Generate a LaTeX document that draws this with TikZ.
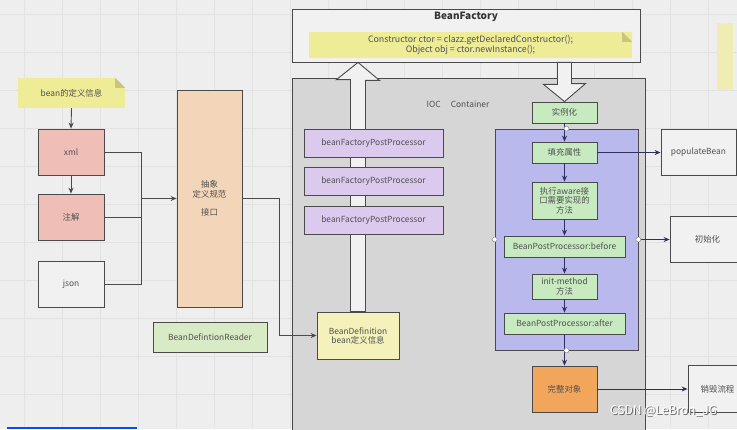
\documentclass[tikz,border=0pt]{standalone}
\usepackage{fontspec}
\setmainfont{Noto Sans CJK SC}
\usetikzlibrary{arrows.meta,calc}
\definecolor{bgc}{HTML}{EEEEEE}
\definecolor{gridc}{HTML}{E2E2E2}
\definecolor{notec}{HTML}{EFEC97}
\definecolor{foldc}{HTML}{C9C67C}
\definecolor{pinkc}{HTML}{EFBFB7}
\definecolor{peachc}{HTML}{F3D6B9}
\definecolor{greenc}{HTML}{D9EAC6}
\definecolor{procc}{HTML}{C7EAC1}
\definecolor{purplec}{HTML}{DCCAEE}
\definecolor{bdc}{HTML}{F5F1BA}
\definecolor{iocc}{HTML}{D6D6D6}
\definecolor{bluec}{HTML}{B9B9EE}
\definecolor{orangec}{HTML}{F2A65C}
\definecolor{whitec}{HTML}{F1F1F1}
\definecolor{linec}{HTML}{4A4A4A}
\definecolor{navyc}{HTML}{2E2E62}
\definecolor{textc}{HTML}{505050}
\newcommand{\fsz}{\fontsize{8.4}{10}\selectfont}
\begin{document}
\begin{tikzpicture}[x=1pt,y=-1pt,
  box/.style={draw=linec, line width=0.8pt, inner sep=1pt, align=center, font=\fsz, text=textc},
  notebox/.style={fill=notec, inner sep=1pt, align=center, font=\fsz, text=textc},
  conn/.style={draw=linec, line width=0.9pt, -{Stealth[length=6pt,width=5pt]}},
  plain/.style={draw=linec, line width=0.9pt},
  nconn/.style={draw=navyc, line width=0.9pt, -{Stealth[length=6pt,width=5pt]}},
  bigarrow/.style={draw=linec, line width=0.9pt, fill=whitec},
  handle/.style={circle, draw=gray, fill=white, inner sep=0pt, minimum size=5pt}]
\useasboundingbox (0,0) rectangle (737,429);
\clip (0,0) rectangle (737,429);
% background with grid
\fill[bgc] (0,0) rectangle (737,429);
\foreach \gx in {24,62,...,737} \draw[gridc, line width=0.6pt] (\gx,0) -- (\gx,429);
\foreach \gy in {14,52,...,429} \draw[gridc, line width=0.6pt] (0,\gy) -- (737,\gy);
\fill[notec!70!bgc] (717,23) rectangle (733,90);

% left part
\node[notebox, minimum width=107pt, minimum height=30pt] (note1) at (71.5,93) {bean的定义信息};
\fill[bgc] ([xshift=-10pt]note1.north east) -- (note1.north east) -- ([yshift=-10pt]note1.north east) -- cycle;
\fill[foldc] ([xshift=-10pt]note1.north east) -- ([xshift=-10pt,yshift=-10pt]note1.north east) -- ([yshift=-10pt]note1.north east) -- cycle;
\node[box, fill=pinkc, minimum width=66pt, minimum height=46pt] (xml) at (71,152) {xml};
\node[box, fill=pinkc, minimum width=66pt, minimum height=46pt] (zhujie) at (71,217) {注解};
\node[box, fill=whitec, minimum width=66pt, minimum height=46pt] (json) at (71,284) {json};
\node[box, fill=peachc, minimum width=65pt, minimum height=217pt] (abstract) at (209.5,198.5) {抽象\\定义规范\\[8pt]接口};
\node[box, fill=greenc, minimum width=114pt, minimum height=30pt] (reader) at (210,337) {BeanDefintionReader};
\coordinate (join) at (141,198.5);
\coordinate (bend) at (279,198.5);
\draw[conn] (note1.south) -- (xml.north);
\draw[conn] (xml.south) -- (zhujie.north);
\draw[plain] (xml.east) -| (join);
\draw[plain] (zhujie.east) -| (join);
\draw[plain] (json.east) -| (join);
\draw[conn] (join) -- (abstract.west);

% BeanFactory
\node[box, fill=whitec, minimum width=348pt, minimum height=53pt] (bf) at (466,35.5) {};
\node[font=\fontsize{10}{11}\selectfont\bfseries, text=black!80] (bftitle) at (466,16.5) {BeanFactory};
\node[notebox, minimum width=323pt, minimum height=26pt, font=\fontsize{8.8}{9.6}\selectfont] (note2) at (470.5,45) {Constructor ctor = clazz.getDeclaredConstructor();\\Object obj = ctor.newInstance();};
\fill[notec] ([xshift=-10pt]note2.north east) -- (note2.north east) -- ([yshift=-10pt]note2.north east) -- cycle;
\fill[foldc] ([xshift=-10pt]note2.north east) -- ([xshift=-10pt,yshift=-10pt]note2.north east) -- ([yshift=-10pt]note2.north east) -- cycle;

% IOC container
\node[box, fill=iocc, minimum width=353pt, minimum height=356pt, anchor=north west] (ioc) at (292,78) {};
\node[font=\fsz, text=textc] (ioclabel) at (458,104) {IOC\hspace{1.2em}Container};
\node[box, fill=bdc, minimum width=82pt, minimum height=47pt] (beandef) at (358,335.5) {BeanDefinition\\[-1pt]bean定义信息};
% up arrow
\draw[bigarrow] ([xshift=-7.5pt]beandef.north) -- ++(0,-232) -- ++(-14,0) -- (beandef.north |- bf.south) -- ++(21.5,18) -- ++(-14,0) -- ([xshift=7.5pt]beandef.north) -- cycle;
\node[box, fill=purplec, minimum width=139pt, minimum height=28pt] (bfpp1) at (373.5,143) {beanFactoryPostProcessor};
\node[box, fill=purplec, minimum width=139pt, minimum height=28pt] (bfpp2) at (373.5,181) {beanFactoryPostProcessor};
\node[box, fill=purplec, minimum width=139pt, minimum height=28pt] (bfpp3) at (373.5,220) {beanFactoryPostProcessor};
\draw[conn] (abstract.east) -- (bend) |- (beandef.west);

% lifecycle
\node[box, draw=linec, fill=bluec, minimum width=143pt, minimum height=221pt] (blue) at (566.5,239.5) {};
\node[box, fill=procc, minimum width=65pt, minimum height=21pt] (shili) at (564.5,112.5) {实例化};
\coordinate (dtop) at (shili.north |- bf.south);
\draw[bigarrow] ([xshift=-7pt]dtop) -- ++(0,22) -- ++(-14,0) -- (shili.north) -- ++(21,-18) -- ++(-14,0) -- ([xshift=7pt]dtop) -- cycle;
\node[box, fill=procc, minimum width=65pt, minimum height=21pt] (tianchong) at (564.5,152.5) {填充属性};
\node[box, fill=procc, minimum width=65pt, minimum height=37pt, font=\fontsize{8.4}{9.6}\selectfont] (aware) at (564.5,200.5) {执行aware接\\口需要实现的\\方法};
\node[box, fill=procc, minimum width=121pt, minimum height=21pt] (bppb) at (564.5,246.5) {BeanPostProcessor:before};
\node[box, fill=procc, minimum width=65pt, minimum height=25pt, font=\fontsize{8.4}{9.2}\selectfont] (init) at (564.5,286.5) {init-method\\方法};
\node[box, fill=procc, minimum width=121pt, minimum height=21pt] (bppa) at (564.5,323.5) {BeanPostProcessor:after};
\node[box, fill=orangec, minimum width=65pt, minimum height=46pt] (wanzheng) at (564.5,389) {完整对象};
\node[box, fill=whitec, minimum width=75pt, minimum height=46pt] (populate) at (698.5,152.5) {populateBean};
\node[box, fill=whitec, minimum width=75pt, minimum height=46pt] (chushihua) at (707.5,239.5) {初始化};
\node[box, fill=whitec, minimum width=75pt, minimum height=47pt] (xiaohui) at (725.5,389) {销毁流程\hspace*{16pt}};

\draw[nconn] (shili.south) -- (tianchong.north);
\draw[nconn] (tianchong.south) -- (aware.north);
\draw[nconn] (aware.south) -- (bppb.north);
\draw[nconn] (bppb.south) -- (init.north);
\draw[nconn] (init.south) -- (bppa.north);
\draw[nconn] (bppa.south) -- (wanzheng.north);
\draw[nconn] (tianchong.east) -- (populate.west);
\draw[nconn] (blue.east) -- (chushihua.west);
\draw[nconn] (wanzheng.east) -- (xiaohui.west);

\node[handle] (h1) at (blue.north) {};
\node[handle] (h2) at (blue.south) {};
\node[handle] (h3) at (blue.west) {};
\node[handle] (h4) at (blue.east) {};

% screenshot artefacts
\fill[blue!70!cyan] (7,427) rectangle (137,429);
\node[font=\fontsize{12}{12}\selectfont, text=black!60] (wm1) at (664.5,412.5) {CSDN @LeBron\_JG};
\node[font=\fontsize{12}{12}\selectfont, text=white] (wm) at (663.5,411.5) {CSDN @LeBron\_JG};
\end{tikzpicture}
\end{document}
